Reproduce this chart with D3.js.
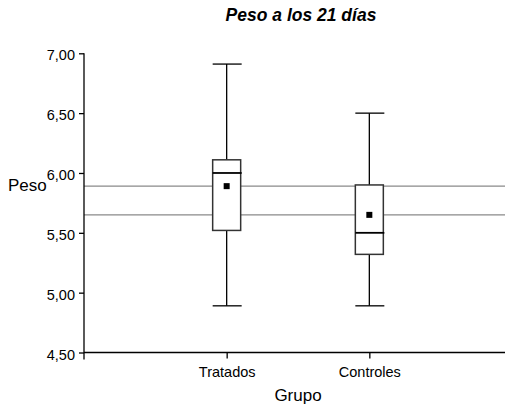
<!DOCTYPE html>
<html>
<head>
<meta charset="utf-8">
<script src="https://cdn.jsdelivr.net/npm/d3@7"></script>
<style>
  body { margin: 0; background: #fff; }
  text { font-family: "Liberation Sans", Arial, sans-serif; fill: #000; }
</style>
</head>
<body>
<svg id="chart" width="505" height="405"></svg>
<script>
const groups = ['Tratados', 'Controles']
const mins = [4.89, 4.89]
const q1s = [5.52, 5.32]
const medians = [6.00, 5.50]
const q3s = [6.11, 5.90]
const maxs = [6.91, 6.50]
const means = [5.89, 5.65]
const yTicks = [4.5, 5.0, 5.5, 6.0, 6.5, 7.0]

const svg = d3.select('#chart')
const plotLeft = 84
const plotRight = 505
const plotTop = 53.3
const plotBottom = 352.5

const x = d3.scalePoint().domain(groups).range([plotLeft, 512]).padding(1)
const y = d3.scaleLinear().domain([4.5, 7]).range([plotBottom, plotTop])

const comma = d3.formatLocale({ decimal: ',', thousands: '.', grouping: [3], currency: ['', '€'] })
const fmt = comma.format('.2f')

// mean reference lines, behind the boxes
svg.append('g')
  .selectAll('line')
  .data(means)
  .join('line')
  .attr('x1', plotLeft)
  .attr('x2', plotRight)
  .attr('y1', d => y(d))
  .attr('y2', d => y(d))
  .attr('stroke', '#8a8a8a')
  .attr('stroke-width', 1.2)

// axes
const yAxis = svg.append('g')
  .attr('transform', `translate(${plotLeft},0)`)
  .call(d3.axisLeft(y).tickValues(yTicks).tickFormat(fmt).tickSize(5).tickPadding(4).tickSizeOuter(0))
yAxis.select('.domain').remove()
yAxis.append('line')
  .attr('x1', 0).attr('x2', 0)
  .attr('y1', plotTop).attr('y2', plotBottom + 7)
  .attr('stroke', '#000').attr('stroke-width', 1.3)
yAxis.selectAll('.tick line').attr('stroke-width', 1.3)
yAxis.selectAll('.tick text')
  .attr('font-size', 14.5)
  .attr('dy', '0.45em')

const xAxis = svg.append('g')
  .attr('transform', `translate(0,${plotBottom})`)
  .call(d3.axisBottom(x).tickSize(6).tickPadding(8).tickSizeOuter(0))
xAxis.select('.domain').remove()
xAxis.append('line')
  .attr('x1', plotLeft).attr('x2', plotRight)
  .attr('y1', 0).attr('y2', 0)
  .attr('stroke', '#000').attr('stroke-width', 1.3)
xAxis.selectAll('.tick line').attr('stroke-width', 1.3)
xAxis.selectAll('.tick text').attr('font-size', 14.5)

// boxes
const half = 14
const boxes = svg.append('g')
  .selectAll('g')
  .data(groups)
  .join('g')
  .attr('transform', d => `translate(${x(d)},0)`)

boxes.append('line')
  .attr('y1', (d, i) => y(maxs[i]))
  .attr('y2', (d, i) => y(q3s[i]))
  .attr('stroke', '#000').attr('stroke-width', 1.3)
boxes.append('line')
  .attr('y1', (d, i) => y(q1s[i]))
  .attr('y2', (d, i) => y(mins[i]))
  .attr('stroke', '#000').attr('stroke-width', 1.3)
boxes.append('line')
  .attr('x1', -half).attr('x2', half + 1)
  .attr('y1', (d, i) => y(maxs[i]))
  .attr('y2', (d, i) => y(maxs[i]))
  .attr('stroke', '#000').attr('stroke-width', 1.3)
boxes.append('line')
  .attr('x1', -half).attr('x2', half + 1)
  .attr('y1', (d, i) => y(mins[i]))
  .attr('y2', (d, i) => y(mins[i]))
  .attr('stroke', '#000').attr('stroke-width', 1.3)
boxes.append('rect')
  .attr('x', -half)
  .attr('width', half * 2)
  .attr('y', (d, i) => y(q3s[i]))
  .attr('height', (d, i) => y(q1s[i]) - y(q3s[i]))
  .attr('fill', '#fff')
  .attr('stroke', '#333')
  .attr('stroke-width', 1.5)
boxes.append('line')
  .attr('x1', -half).attr('x2', half + 1)
  .attr('y1', (d, i) => y(medians[i]))
  .attr('y2', (d, i) => y(medians[i]))
  .attr('stroke', '#000').attr('stroke-width', 1.8)
boxes.append('rect')
  .attr('x', -3)
  .attr('y', (d, i) => y(means[i]) - 3)
  .attr('width', 6)
  .attr('height', 6)
  .attr('fill', '#000')

// titles
svg.append('text')
  .attr('x', 301).attr('y', 21)
  .attr('text-anchor', 'middle')
  .attr('font-size', 17.5)
  .attr('font-weight', 'bold')
  .attr('font-style', 'italic')
  .text('Peso a los 21 días')

svg.append('text')
  .attr('x', 298).attr('y', 401)
  .attr('text-anchor', 'middle')
  .attr('font-size', 17)
  .text('Grupo')

svg.append('text')
  .attr('x', 8).attr('y', 191)
  .attr('font-size', 17)
  .text('Peso')
</script>
</body>
</html>
